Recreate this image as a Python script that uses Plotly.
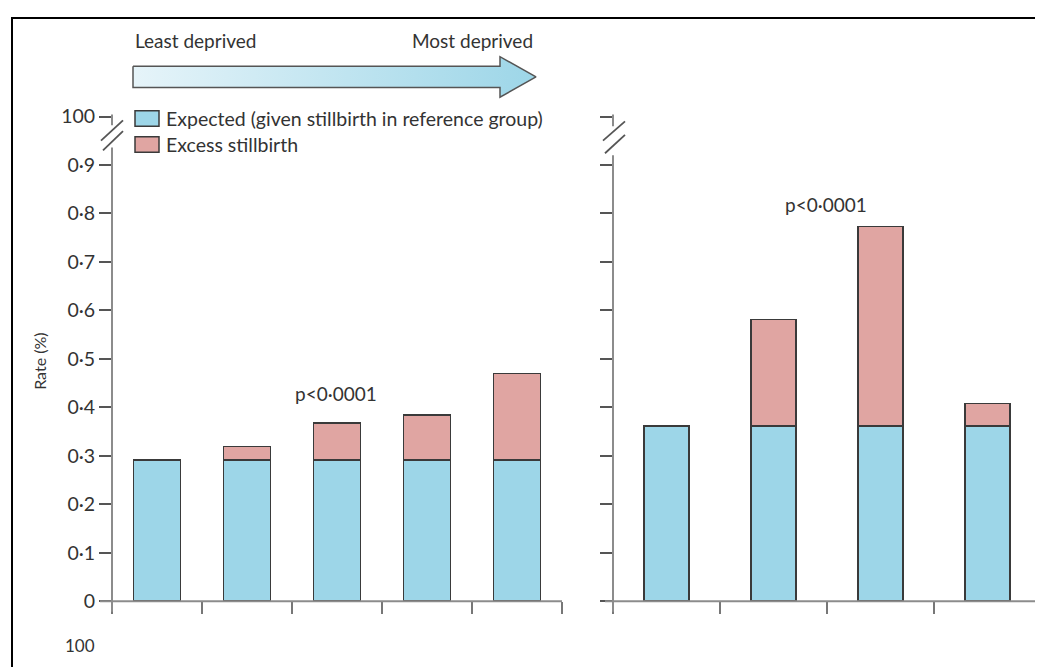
import plotly.graph_objects as go

# ---------------- data ----------------
left_categories = ["Q1 (least deprived)", "Q2", "Q3", "Q4", "Q5 (most deprived)"]
left_expected = [0.291, 0.291, 0.291, 0.291, 0.291]
left_excess = [0.0, 0.028, 0.077, 0.093, 0.179]

right_categories = ["Group 1", "Group 2", "Group 3", "Group 4"]
right_expected = [0.362, 0.362, 0.362, 0.362]
right_excess = [0.0, 0.219, 0.411, 0.046]

y_tickvals = [0, 0.1, 0.2, 0.3, 0.4, 0.5, 0.6, 0.7, 0.8, 0.9, 1.0]
y_ticktext = ["0", "0·1", "0·2", "0·3", "0·4", "0·5", "0·6", "0·7", "0·8", "0·9", "100"]

series_names = ["Expected (given stillbirth in reference group)", "Excess stillbirth"]
p_text = "p<0·0001"

# ---------------- style ----------------
W, H = 1043, 667
OFF = 8  # page offset of the figure inside the browser window
FONT = "Lato"
BLUE = "#9dd6e8"
PINK = "#e0a5a2"
EDGE = "#3a3a3a"
AXIS = "#8c8c8c"
TXT = "#333333"


def px(x):
    return (x - OFF) / W


def py(y):
    return 1 - (y - OFF) / H


fig = go.Figure()

# bars, left panel
fig.add_trace(go.Bar(x=left_categories, y=left_expected, name=series_names[0],
                     marker=dict(color=BLUE, line=dict(color=EDGE, width=1.5)),
                     width=0.52, xaxis="x", yaxis="y", showlegend=False))
fig.add_trace(go.Bar(x=left_categories, y=left_excess, name=series_names[1],
                     marker=dict(color=PINK, line=dict(color=EDGE, width=1.5)),
                     width=0.52, xaxis="x", yaxis="y", showlegend=False))
# bars, right panel
fig.add_trace(go.Bar(x=right_categories, y=right_expected, name=series_names[0],
                     marker=dict(color=BLUE, line=dict(color=EDGE, width=1.5)),
                     width=0.42, xaxis="x2", yaxis="y2", showlegend=False))
fig.add_trace(go.Bar(x=right_categories, y=right_excess, name=series_names[1],
                     marker=dict(color=PINK, line=dict(color=EDGE, width=1.5)),
                     width=0.42, xaxis="x2", yaxis="y2", showlegend=False))

# gradient arrow (decoration) on a hidden pixel-space axis
arrow_x = [133, 500, 500, 536, 500, 500, 133, 133]
arrow_y = [56, 56, 46, 67, 88, 78, 78, 56]
fig.add_trace(go.Scatter(x=arrow_x, y=arrow_y, mode="lines", fill="toself",
                         fillgradient=dict(type="horizontal",
                                           colorscale=[[0, "#e6f4f9"], [1, "#9dd6e8"]]),
                         line=dict(color="#555555", width=1.5),
                         xaxis="x3", yaxis="y3", showlegend=False, hoverinfo="skip"))

y_dom = [py(610), py(108)]
common_y = dict(range=[0, 1.0], tickvals=y_tickvals, ticks="outside", ticklen=12,
                tickwidth=1.5, tickcolor="#555555", showline=False, showgrid=False,
                zeroline=False, domain=y_dom)
common_x = dict(type="category", tickson="boundaries", ticks="outside", ticklen=12,
                tickwidth=1.5, tickcolor="#777777", showticklabels=False,
                showline=False, showgrid=False, zeroline=False)

fig.update_layout(
    width=W, height=H,
    margin=dict(l=0, r=0, t=0, b=0),
    paper_bgcolor="white", plot_bgcolor="rgba(0,0,0,0)",
    barmode="stack",
    showlegend=False,
    font=dict(family=FONT, size=18, color=TXT),
    xaxis=dict(common_x, domain=[px(112), px(562)], range=[-0.5, 4.5], anchor="y"),
    yaxis=dict(common_y, ticktext=y_ticktext, showticklabels=True, anchor="x",
               tickfont=dict(family=FONT, size=19.5, color=TXT)),
    xaxis2=dict(common_x, domain=[px(613), px(1041)], range=[-0.5, 3.5], anchor="y2"),
    yaxis2=dict(common_y, showticklabels=False, anchor="x2"),
    xaxis3=dict(domain=[0, 1], range=[OFF, W + OFF], visible=False, anchor="y3",
                fixedrange=True),
    yaxis3=dict(domain=[0, 1], range=[H + OFF, OFF], visible=False, anchor="x3",
                fixedrange=True),
)

shapes = []


def seg(x0, y0, x1, y1, color=AXIS, width=2):
    shapes.append(dict(type="line", xref="paper", yref="paper",
                       x0=px(x0), y0=py(y0), x1=px(x1), y1=py(y1),
                       line=dict(color=color, width=width)))


# left axis lines with break
seg(112, 621, 112, 140)
seg(112, 106, 112, 117)
seg(101, 133, 123, 112, "#555555", 1.8)
seg(103, 143, 123, 123, "#555555", 1.8)
seg(100, 610, 562, 610)
# right axis lines with break
seg(613, 621, 613, 148)
seg(613, 106, 613, 118)
seg(603, 133, 625, 113, "#555555", 1.8)
seg(605, 146, 625, 127, "#555555", 1.8)
seg(605, 610, 1060, 610)

# outer frame
shapes.append(dict(type="rect", xref="paper", yref="paper",
                   x0=px(12), y0=-0.1, x1=1.1, y1=py(6),
                   line=dict(color="black", width=2), fillcolor="rgba(0,0,0,0)"))

# legend swatches
shapes.append(dict(type="rect", xref="paper", yref="paper",
                   x0=px(135), x1=px(159), y0=py(118), y1=py(102),
                   fillcolor=BLUE, line=dict(color=EDGE, width=1.5)))
shapes.append(dict(type="rect", xref="paper", yref="paper",
                   x0=px(135), x1=px(159), y0=py(145), y1=py(129),
                   fillcolor=PINK, line=dict(color=EDGE, width=1.5)))
fig.update_layout(shapes=shapes)

annotations = [
    dict(text="Least deprived", x=px(133), y=py(29), xanchor="left", yanchor="middle",
         font=dict(size=19)),
    dict(text="Most deprived", x=px(535), y=py(29), xanchor="right", yanchor="middle",
         font=dict(size=19)),
    dict(text=series_names[0], x=px(164), y=py(110), xanchor="left", yanchor="middle",
         font=dict(size=19.5)),
    dict(text=series_names[1], x=px(164), y=py(137), xanchor="left", yanchor="middle",
         font=dict(size=19.5)),
    dict(text="Rate (%)", x=px(40), y=py(362), textangle=-90, xanchor="center",
         yanchor="middle", font=dict(size=16)),
    dict(text=p_text, x=px(336), y=py(395), xanchor="center", yanchor="middle",
         font=dict(size=19)),
    dict(text=p_text, x=px(826), y=py(199), xanchor="center", yanchor="middle",
         font=dict(size=19)),
    dict(text="100", x=px(80), y=py(656), xanchor="center", yanchor="middle",
         font=dict(size=17)),
]
for a in annotations:
    a.update(xref="paper", yref="paper", showarrow=False)
fig.update_layout(annotations=annotations)

fig.write_html("out.html")
